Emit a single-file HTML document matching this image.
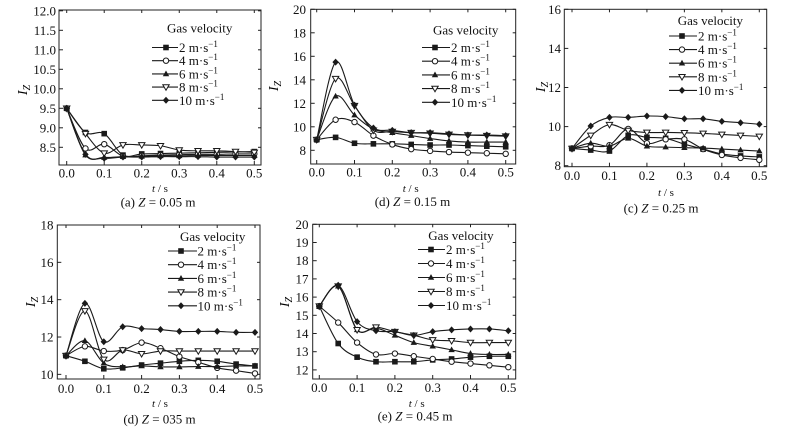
<!DOCTYPE html>
<html><head><meta charset="utf-8">
<style>
html,body{margin:0;padding:0;background:#fff;}
svg{display:block;}
svg text, svg tspan{font-family:"Liberation Serif","Times New Roman",serif;}
.t{font-size:13px;fill:#111;}
.lg{font-size:13px;fill:#111;}
.cap{font-size:13px;fill:#111;}
.xl{font-size:11px;fill:#111;}
</style></head>
<body>
<svg id="s" width="798" height="434" viewBox="0 0 798 434" xmlns="http://www.w3.org/2000/svg" font-family="Liberation Serif, serif">
<rect width="798" height="434" fill="#fff"/>
<g id="plots"></g>

<!-- Panel A -->
<g class="t" text-anchor="end">
<text x="56" y="15.3">12.0</text><text x="56" y="34.8">11.5</text><text x="56" y="54.3">11.0</text><text x="56" y="73.8">10.5</text><text x="56" y="93.3">10.0</text><text x="56" y="112.8">9.5</text><text x="56" y="132.3">9.0</text><text x="56" y="151.8">8.5</text>
</g>
<g class="t" text-anchor="middle">
<text x="66.7" y="177.5">0.0</text><text x="104.2" y="177.5">0.1</text><text x="141.8" y="177.5">0.2</text><text x="179.3" y="177.5">0.3</text><text x="216.8" y="177.5">0.4</text><text x="254.3" y="177.5">0.5</text>
</g>
<text class="xl" x="160" y="192" text-anchor="middle"><tspan font-style="italic">t</tspan> / s</text>
<text class="cap" x="158" y="206.5" text-anchor="middle">(a) <tspan font-style="italic">Z</tspan> = 0.05 m</text>
<text transform="translate(27,90) rotate(-90)" font-size="14" text-anchor="middle" font-style="italic">I<tspan font-size="10" dy="3">Z</tspan></text>
<text class="lg" x="167" y="32.5">Gas velocity</text>

<!-- Panel B -->
<g class="t" text-anchor="end">
<text x="306" y="13.8">20</text><text x="306" y="37.3">18</text><text x="306" y="60.8">16</text><text x="306" y="84.3">14</text><text x="306" y="107.8">12</text><text x="306" y="131.3">10</text><text x="306" y="154.8">8</text>
</g>
<g class="t" text-anchor="middle">
<text x="316.7" y="176.3">0.0</text><text x="354.5" y="176.3">0.1</text><text x="392.3" y="176.3">0.2</text><text x="430.1" y="176.3">0.3</text><text x="467.9" y="176.3">0.4</text><text x="505.7" y="176.3">0.5</text>
</g>
<text class="xl" x="410.7" y="192" text-anchor="middle"><tspan font-style="italic">t</tspan> / s</text>
<text class="cap" x="412.5" y="206" text-anchor="middle">(d) <tspan font-style="italic">Z</tspan> = 0.15 m</text>
<text transform="translate(278,86) rotate(-90)" font-size="14" text-anchor="middle" font-style="italic">I<tspan font-size="10" dy="3">Z</tspan></text>
<text class="lg" x="433" y="34.5">Gas velocity</text>

<!-- Panel C -->
<g class="t" text-anchor="end">
<text x="561" y="13.8">16</text><text x="561" y="52.9">14</text><text x="561" y="92">12</text><text x="561" y="131.1">10</text><text x="561" y="170.2">8</text>
</g>
<g class="t" text-anchor="middle">
<text x="572" y="180.2">0.0</text><text x="609.5" y="180.2">0.1</text><text x="646.9" y="180.2">0.2</text><text x="684.4" y="180.2">0.3</text><text x="721.8" y="180.2">0.4</text><text x="759.3" y="180.2">0.5</text>
</g>
<text class="xl" x="666" y="196" text-anchor="middle"><tspan font-style="italic">t</tspan> / s</text>
<text class="cap" x="661" y="212.5" text-anchor="middle">(c) <tspan font-style="italic">Z</tspan> = 0.25 m</text>
<text transform="translate(545,87) rotate(-90)" font-size="14" text-anchor="middle" font-style="italic">I<tspan font-size="10" dy="3">Z</tspan></text>
<text class="lg" x="677.7" y="25">Gas velocity</text>

<!-- Panel D -->
<g class="t" text-anchor="end">
<text x="53.5" y="229.5">18</text><text x="53.5" y="266.8">16</text><text x="53.5" y="304.2">14</text><text x="53.5" y="341.5">12</text><text x="53.5" y="378.8">10</text>
</g>
<g class="t" text-anchor="middle">
<text x="66" y="392.8">0.0</text><text x="103.8" y="392.8">0.1</text><text x="141.6" y="392.8">0.2</text><text x="179.4" y="392.8">0.3</text><text x="217.2" y="392.8">0.4</text><text x="255" y="392.8">0.5</text>
</g>
<text class="xl" x="160" y="407" text-anchor="middle"><tspan font-style="italic">t</tspan> / s</text>
<text class="cap" x="159.5" y="423.5" text-anchor="middle">(d) <tspan font-style="italic">Z</tspan> = 035 m</text>
<text transform="translate(35,302) rotate(-90)" font-size="14" text-anchor="middle" font-style="italic">I<tspan font-size="10" dy="3">Z</tspan></text>
<text class="lg" x="180" y="241">Gas velocity</text>

<!-- Panel E -->
<g class="t" text-anchor="end">
<text x="308.5" y="228.8">20</text><text x="308.5" y="247">19</text><text x="308.5" y="265.2">18</text><text x="308.5" y="283.4">17</text><text x="308.5" y="301.6">16</text><text x="308.5" y="319.8">15</text><text x="308.5" y="338">14</text><text x="308.5" y="356.2">13</text><text x="308.5" y="374.4">12</text>
</g>
<g class="t" text-anchor="middle">
<text x="319.3" y="392.2">0.0</text><text x="357.1" y="392.2">0.1</text><text x="394.9" y="392.2">0.2</text><text x="432.7" y="392.2">0.3</text><text x="470.5" y="392.2">0.4</text><text x="508.3" y="392.2">0.5</text>
</g>
<text class="xl" x="416.7" y="407" text-anchor="middle"><tspan font-style="italic">t</tspan> / s</text>
<text class="cap" x="415" y="420.5" text-anchor="middle">(e) <tspan font-style="italic">Z</tspan> = 0.45 m</text>
<text transform="translate(289,302) rotate(-90)" font-size="14" text-anchor="middle" font-style="italic">I<tspan font-size="10" dy="3">Z</tspan></text>
<text class="lg" x="428.3" y="240">Gas velocity</text>

<!-- Legend labels -->
<g class="lg">
<text x="179" y="52">2 m·s<tspan font-size="9" dy="-5">−1</tspan></text>
<text x="179" y="65.2">4 m·s<tspan font-size="9" dy="-5">−1</tspan></text>
<text x="179" y="78.4">6 m·s<tspan font-size="9" dy="-5">−1</tspan></text>
<text x="179" y="91.6">8 m·s<tspan font-size="9" dy="-5">−1</tspan></text>
<text x="179" y="104.8">10 m·s<tspan font-size="9" dy="-5">−1</tspan></text>

<text x="451" y="52">2 m·s<tspan font-size="9" dy="-5">−1</tspan></text>
<text x="451" y="65.7">4 m·s<tspan font-size="9" dy="-5">−1</tspan></text>
<text x="451" y="79.4">6 m·s<tspan font-size="9" dy="-5">−1</tspan></text>
<text x="451" y="93.1">8 m·s<tspan font-size="9" dy="-5">−1</tspan></text>
<text x="451" y="106.8">10 m·s<tspan font-size="9" dy="-5">−1</tspan></text>

<text x="698" y="40.5">2 m·s<tspan font-size="9" dy="-5">−1</tspan></text>
<text x="698" y="54.1">4 m·s<tspan font-size="9" dy="-5">−1</tspan></text>
<text x="698" y="67.7">6 m·s<tspan font-size="9" dy="-5">−1</tspan></text>
<text x="698" y="81.3">8 m·s<tspan font-size="9" dy="-5">−1</tspan></text>
<text x="698" y="94.9">10 m·s<tspan font-size="9" dy="-5">−1</tspan></text>

<text x="197.5" y="255.5">2 m·s<tspan font-size="9" dy="-5">−1</tspan></text>
<text x="197.5" y="269.2">4 m·s<tspan font-size="9" dy="-5">−1</tspan></text>
<text x="197.5" y="282.9">6 m·s<tspan font-size="9" dy="-5">−1</tspan></text>
<text x="197.5" y="296.6">8 m·s<tspan font-size="9" dy="-5">−1</tspan></text>
<text x="197.5" y="310.3">10 m·s<tspan font-size="9" dy="-5">−1</tspan></text>

<text x="446" y="254">2 m·s<tspan font-size="9" dy="-5">−1</tspan></text>
<text x="446" y="268">4 m·s<tspan font-size="9" dy="-5">−1</tspan></text>
<text x="446" y="282">6 m·s<tspan font-size="9" dy="-5">−1</tspan></text>
<text x="446" y="296">8 m·s<tspan font-size="9" dy="-5">−1</tspan></text>
<text x="446" y="310">10 m·s<tspan font-size="9" dy="-5">−1</tspan></text>
</g>
</svg>
<script>
(function(){
var P=[
 {x0:66.7,x1:254.3,yf:function(v){return 10.8+(12-v)*39;},box:[59,10,261,165],yt:[12,11.5,11,10.5,10,9.5,9,8.5],
  lg:{l:152,r:178,m:166,y0:47.5,dy:13.2},
  d:[[9.5,8.88,8.85,8.3,8.33,8.34,8.35,8.36,8.37,8.38,8.39],
     [9.5,8.47,8.58,8.27,8.28,8.3,8.31,8.32,8.32,8.33,8.33],
     [9.5,8.3,8.24,8.26,8.27,8.28,8.28,8.29,8.29,8.29,8.29],
     [9.5,8.85,8.35,8.56,8.56,8.54,8.43,8.41,8.41,8.39,8.37],
     [9.5,8.32,8.22,8.25,8.25,8.26,8.26,8.26,8.25,8.25,8.25]]},
 {x0:316.7,x1:505.7,yf:function(v){return 9.3+(20-v)*11.75;},box:[310.7,9.3,515.7,164],yt:[20,18,16,14,12,10,8],
  lg:{l:422,r:450,m:435,y0:47.5,dy:13.7},
  d:[[8.9,9.1,8.6,8.55,8.55,8.5,8.45,8.45,8.4,8.35,8.3],
     [8.9,10.6,10.4,9.25,8.5,8.1,7.95,7.85,7.8,7.75,7.7],
     [8.9,12.6,11.0,9.8,9.5,9.25,9.0,8.8,8.7,8.7,8.7],
     [8.9,14.1,11.8,9.7,9.6,9.5,9.45,9.35,9.3,9.25,9.2],
     [8.9,15.5,11.85,9.9,9.7,9.5,9.5,9.4,9.3,9.3,9.25]]},
 {x0:572,x1:759.3,yf:function(v){return 9.3+(16-v)*19.55;},box:[564.3,9.3,766.7,166.7],yt:[16,14,12,10,8],
  lg:{l:669,r:697,m:682,y0:36,dy:13.6},
  d:[[8.88,8.8,8.75,9.55,9.45,9.4,9.1,8.85,8.6,8.5,8.45],
     [8.88,9.0,9.05,9.88,9.15,9.35,9.35,8.85,8.55,8.4,8.3],
     [8.88,9.15,9.0,9.4,9.0,8.95,8.92,8.9,8.85,8.8,8.75],
     [8.88,9.55,10.1,9.8,9.7,9.7,9.68,9.65,9.6,9.55,9.5],
     [8.88,10.03,10.47,10.47,10.54,10.51,10.4,10.4,10.27,10.2,10.12]]},
 {x0:66,x1:255,yf:function(v){return 225+(18-v)*18.67;},box:[57.3,225,260,379],yt:[18,16,14,12,10],
  lg:{l:168,r:197,m:181,y0:251,dy:13.7},
  d:[[11.0,10.7,10.3,10.35,10.5,10.6,10.7,10.75,10.7,10.55,10.45],
     [11.0,11.5,11.25,11.3,11.7,11.4,10.95,10.65,10.35,10.2,10.05],
     [11.0,11.8,10.6,10.4,10.45,10.4,10.4,10.42,10.42,10.45,10.45],
     [11.0,13.4,10.8,11.3,11.1,11.25,11.25,11.25,11.25,11.25,11.25],
     [11.0,13.8,11.75,12.55,12.45,12.4,12.3,12.3,12.3,12.25,12.25]]},
 {x0:319.3,x1:508.3,yf:function(v){return 224.3+(20-v)*18.2;},box:[312.7,224.3,515.7,379],yt:[20,19,18,17,16,15,14,13,12],
  lg:{l:418,r:445,m:431,y0:249.5,dy:14},
  d:[[15.5,13.45,12.7,12.45,12.45,12.45,12.55,12.6,12.7,12.75,12.75],
     [15.5,14.6,13.5,12.85,12.9,12.75,12.6,12.45,12.35,12.25,12.15],
     [15.5,16.6,14.2,14.3,13.9,13.5,13.3,13.1,12.9,12.85,12.85],
     [15.5,16.6,14.2,14.35,14.1,13.9,13.65,13.6,13.5,13.5,13.5],
     [15.5,16.65,14.65,14.15,14.1,13.9,14.1,14.2,14.25,14.25,14.15]]}
];
var C="#1a1a1a";
function path(p){var d="M"+p[0][0].toFixed(2)+","+p[0][1].toFixed(2);
 for(var i=0;i<p.length-1;i++){var p0=p[i-1]||p[i],p1=p[i],p2=p[i+1],p3=p[i+2]||p2;
  var c1x=p1[0]+(p2[0]-p0[0])/6,c1y=p1[1]+(p2[1]-p0[1])/6,c2x=p2[0]-(p3[0]-p1[0])/6,c2y=p2[1]-(p3[1]-p1[1])/6;
  d+="C"+c1x.toFixed(2)+","+c1y.toFixed(2)+" "+c2x.toFixed(2)+","+c2y.toFixed(2)+" "+p2[0].toFixed(2)+","+p2[1].toFixed(2);}
 return d;}
function mk(t,x,y){var s=2.8;
 if(t==0)return '<rect x="'+(x-s)+'" y="'+(y-s)+'" width="'+(2*s)+'" height="'+(2*s)+'" fill="'+C+'"/>';
 if(t==1)return '<circle cx="'+x+'" cy="'+y+'" r="2.7" fill="#fff" stroke="'+C+'" stroke-width="1"/>';
 if(t==2)return '<polygon points="'+x+','+(y-3.4)+' '+(x+3.2)+','+(y+2.3)+' '+(x-3.2)+','+(y+2.3)+'" fill="'+C+'"/>';
 if(t==3)return '<polygon points="'+x+','+(y+3.2)+' '+(x+3.2)+','+(y-2.3)+' '+(x-3.2)+','+(y-2.3)+'" fill="#fff" stroke="'+C+'" stroke-width="1"/>';
 return '<polygon points="'+x+','+(y-3.5)+' '+(x+3.2)+','+y+' '+x+','+(y+3.5)+' '+(x-3.2)+','+y+'" fill="'+C+'"/>';}
var out="";
P.forEach(function(p){
 var b=p.box;
 out+='<rect x="'+b[0]+'" y="'+b[1]+'" width="'+(b[2]-b[0])+'" height="'+(b[3]-b[1])+'" fill="none" stroke="#222" stroke-width="1"/>';
 p.yt.forEach(function(v){var y=p.yf(v);out+='<line x1="'+b[0]+'" y1="'+y+'" x2="'+(b[0]+4)+'" y2="'+y+'" stroke="#222"/>';
   out+='<line x1="'+b[2]+'" y1="'+y+'" x2="'+(b[2]-3)+'" y2="'+y+'" stroke="#222"/>';});
 for(var k=0;k<=5;k++){var x=p.x0+(p.x1-p.x0)*k/5;
   out+='<line x1="'+x+'" y1="'+b[3]+'" x2="'+x+'" y2="'+(b[3]-4)+'" stroke="#222"/>';
   out+='<line x1="'+x+'" y1="'+b[1]+'" x2="'+x+'" y2="'+(b[1]+3)+'" stroke="#222"/>';}
 var sx=(p.x1-p.x0)/10;
 p.d.forEach(function(s,si){
   var pts=s.map(function(v,i){return [p.x0+i*sx,p.yf(v)];});
   out+='<path d="'+path(pts)+'" fill="none" stroke="'+C+'" stroke-width="1.1"/>';
   pts.forEach(function(q){out+=mk(si,q[0],q[1]);});
   var ly=p.lg.y0+si*p.lg.dy;
   out+='<line x1="'+p.lg.l+'" y1="'+ly+'" x2="'+p.lg.r+'" y2="'+ly+'" stroke="'+C+'" stroke-width="1.1"/>';
   out+=mk(si,p.lg.m,ly);
 });
});
document.getElementById("plots").innerHTML=out;
})();
</script>
</body></html>
